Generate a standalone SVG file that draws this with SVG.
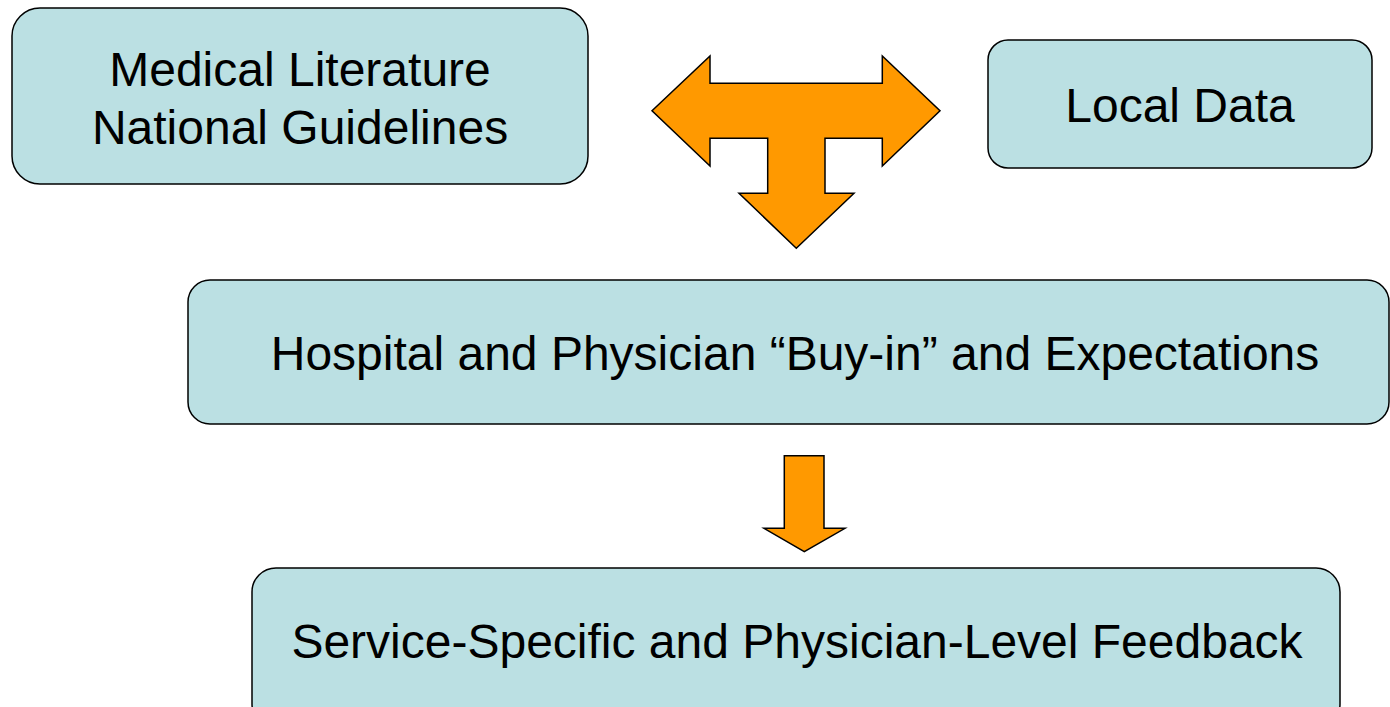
<svg xmlns="http://www.w3.org/2000/svg" width="1390" height="707" viewBox="0 0 1390 707">
<style>
.box{fill:#BBE0E3;stroke:#000;stroke-width:1.5}
.arrow{fill:#FF9900;stroke:#000;stroke-width:1.5;stroke-linejoin:miter}
text{font-family:"Liberation Sans",Arial,sans-serif;font-size:48px;fill:#000;text-anchor:middle}
</style>
<rect width="1390" height="707" fill="#fff"/>
<g id="medical">
<rect class="box" x="12" y="8" width="576" height="176" rx="28"/>
<text x="300" y="86">Medical Literature</text>
<text x="300" y="144">National Guidelines</text>
</g>
<g id="local">
<rect class="box" x="988" y="40" width="384" height="128" rx="20"/>
<text x="1180" y="122">Local Data</text>
</g>
<g id="buyin">
<rect class="box" x="188" y="280" width="1201" height="144" rx="22"/>
<text x="795" y="370">Hospital and Physician “Buy-in” and Expectations</text>
</g>
<g id="feedback">
<rect class="box" x="252" y="568" width="1088" height="160" rx="24"/>
<text x="797" y="658">Service-Specific and Physician-Level Feedback</text>
</g>
<g id="connectors">
<polygon class="arrow" points="652,110.7 710,56 710,83.3 882.3,83.3 882.3,56 940,110.7 882.3,166 882.3,138.3 825,138.3 825,193.3 854,193.3 796.3,248.3 739,193.3 767.7,193.3 767.7,138.3 710,138.3 710,166"/>
<polygon class="arrow" points="784.3,455.7 824,455.7 824,528.3 845,528.3 804.3,551.7 764,528.3 784.3,528.3"/>
</g>
</svg>
